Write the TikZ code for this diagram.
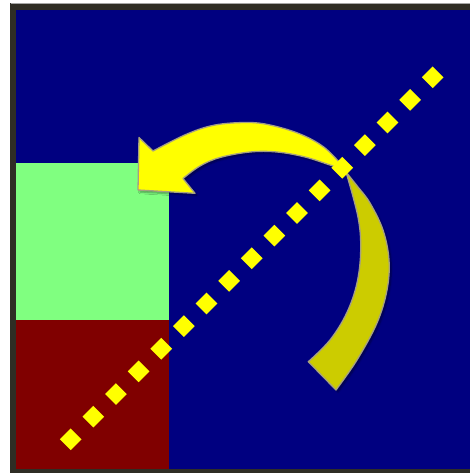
\documentclass[tikz,border=0pt]{standalone}
\usetikzlibrary{shadows.blur}
\definecolor{navy}{RGB}{0,0,128}
\definecolor{lgreen}{RGB}{128,255,128}
\definecolor{dred}{RGB}{128,0,0}
\definecolor{frame}{RGB}{47,45,36}
\definecolor{ayellow}{RGB}{255,255,0}
\definecolor{dyellow}{RGB}{204,204,0}
\definecolor{aedge}{RGB}{165,160,130}
\tikzset{
  arrowpart/.style={draw=aedge, line width=1.3pt, line join=round,
    blur shadow={shadow xshift=2pt, shadow yshift=-2pt, shadow blur steps=6, shadow opacity=40}},
  dots/.style={ayellow, line width=15.3pt, dash pattern=on 15.3pt off 16.7pt, line cap=butt}
}
\begin{document}
\begin{tikzpicture}[x=1pt,y=-1pt]
\useasboundingbox (0,0) rectangle (469,473);
\fill[white] (0,0) rectangle (469,473);
% frame
\fill[frame] (10,3) rectangle (480,480);
\fill[gray!70] (11,3) rectangle (480,4.2);
\fill[navy] (16,10) rectangle (480,468.5);
\fill[lgreen] (16,163) rectangle (169,320);
\fill[dred] (16,320) rectangle (169,468.5);
% back (dark) part of the curved arrow
\path[arrowpart, fill=dyellow]
  plot[smooth, tension=0.6] coordinates {(346,172) (358,187) (370,203) (383,230) (389,260) (387,290) (377,323) (357,360) (336,390)}
  -- (308.3,361.7)
  -- plot[smooth, tension=0.6] coordinates {(308.3,361.7) (330,340) (346.7,313) (357,283) (360.7,250) (358,217) (346,172)}
  -- cycle;
% front (bright) part with head
\path[arrowpart, fill=ayellow]
  plot[smooth, tension=0.6] coordinates {(346,170) (325,148) (300,134) (270,125) (247,122.5) (215,125) (187,134) (153,151)}
  -- (139,137.5) -- (138,190) -- (195,193.3) -- (183,178.5)
  -- plot[smooth, tension=0.6] coordinates {(183,178.5) (200,166) (220,157.5) (250,152) (277,152) (305,157) (330,165) (346,170)}
  -- cycle;
% dotted diagonal
\coordinate (d0) at (65.3,444.7);
\coordinate (d1) at (438.1,71.9);
\draw[dots] (d0) -- (d1);
\end{tikzpicture}
\end{document}
